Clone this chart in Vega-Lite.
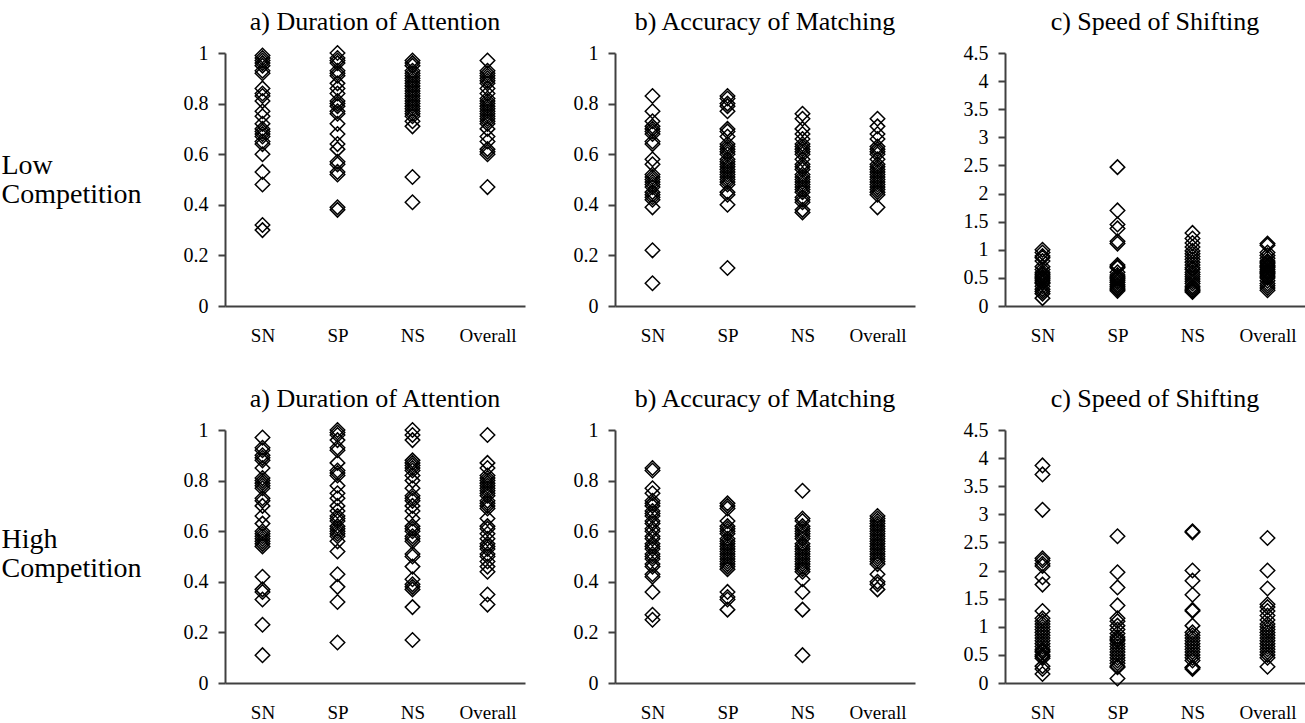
{
  "$schema": "https://vega.github.io/schema/vega-lite/v6.json",
  "padding": {"left": 1, "top": 8, "right": 0, "bottom": 0},
  "background": "white",
  "datasets": {
    "la": [
      {"g":"SN","v":0.99},{"g":"SN","v":0.98},{"g":"SN","v":0.97},{"g":"SN","v":0.96},{"g":"SN","v":0.95},{"g":"SN","v":0.93},{"g":"SN","v":0.92},{"g":"SN","v":0.86},{"g":"SN","v":0.84},{"g":"SN","v":0.83},{"g":"SN","v":0.81},{"g":"SN","v":0.77},{"g":"SN","v":0.75},{"g":"SN","v":0.72},{"g":"SN","v":0.70},{"g":"SN","v":0.69},{"g":"SN","v":0.68},{"g":"SN","v":0.67},{"g":"SN","v":0.65},{"g":"SN","v":0.64},{"g":"SN","v":0.60},{"g":"SN","v":0.53},{"g":"SN","v":0.48},{"g":"SN","v":0.32},{"g":"SN","v":0.30},
      {"g":"SP","v":1.00},{"g":"SP","v":0.98},{"g":"SP","v":0.97},{"g":"SP","v":0.96},{"g":"SP","v":0.93},{"g":"SP","v":0.92},{"g":"SP","v":0.91},{"g":"SP","v":0.88},{"g":"SP","v":0.86},{"g":"SP","v":0.84},{"g":"SP","v":0.81},{"g":"SP","v":0.80},{"g":"SP","v":0.79},{"g":"SP","v":0.77},{"g":"SP","v":0.76},{"g":"SP","v":0.72},{"g":"SP","v":0.68},{"g":"SP","v":0.64},{"g":"SP","v":0.62},{"g":"SP","v":0.57},{"g":"SP","v":0.56},{"g":"SP","v":0.53},{"g":"SP","v":0.52},{"g":"SP","v":0.39},{"g":"SP","v":0.38},
      {"g":"NS","v":0.97},{"g":"NS","v":0.96},{"g":"NS","v":0.95},{"g":"NS","v":0.93},{"g":"NS","v":0.92},{"g":"NS","v":0.91},{"g":"NS","v":0.90},{"g":"NS","v":0.89},{"g":"NS","v":0.88},{"g":"NS","v":0.87},{"g":"NS","v":0.86},{"g":"NS","v":0.85},{"g":"NS","v":0.84},{"g":"NS","v":0.83},{"g":"NS","v":0.82},{"g":"NS","v":0.81},{"g":"NS","v":0.80},{"g":"NS","v":0.79},{"g":"NS","v":0.78},{"g":"NS","v":0.77},{"g":"NS","v":0.76},{"g":"NS","v":0.75},{"g":"NS","v":0.73},{"g":"NS","v":0.71},{"g":"NS","v":0.51},{"g":"NS","v":0.41},
      {"g":"Overall","v":0.97},{"g":"Overall","v":0.93},{"g":"Overall","v":0.92},{"g":"Overall","v":0.91},{"g":"Overall","v":0.90},{"g":"Overall","v":0.89},{"g":"Overall","v":0.88},{"g":"Overall","v":0.86},{"g":"Overall","v":0.84},{"g":"Overall","v":0.82},{"g":"Overall","v":0.81},{"g":"Overall","v":0.80},{"g":"Overall","v":0.79},{"g":"Overall","v":0.78},{"g":"Overall","v":0.77},{"g":"Overall","v":0.76},{"g":"Overall","v":0.75},{"g":"Overall","v":0.74},{"g":"Overall","v":0.73},{"g":"Overall","v":0.72},{"g":"Overall","v":0.70},{"g":"Overall","v":0.67},{"g":"Overall","v":0.65},{"g":"Overall","v":0.62},{"g":"Overall","v":0.61},{"g":"Overall","v":0.60},{"g":"Overall","v":0.47}
    ],
    "lb": [
      {"g":"SN","v":0.83},{"g":"SN","v":0.77},{"g":"SN","v":0.73},{"g":"SN","v":0.71},{"g":"SN","v":0.70},{"g":"SN","v":0.69},{"g":"SN","v":0.68},{"g":"SN","v":0.65},{"g":"SN","v":0.64},{"g":"SN","v":0.58},{"g":"SN","v":0.56},{"g":"SN","v":0.52},{"g":"SN","v":0.51},{"g":"SN","v":0.50},{"g":"SN","v":0.49},{"g":"SN","v":0.48},{"g":"SN","v":0.47},{"g":"SN","v":0.45},{"g":"SN","v":0.44},{"g":"SN","v":0.43},{"g":"SN","v":0.42},{"g":"SN","v":0.39},{"g":"SN","v":0.22},{"g":"SN","v":0.09},
      {"g":"SP","v":0.83},{"g":"SP","v":0.82},{"g":"SP","v":0.80},{"g":"SP","v":0.79},{"g":"SP","v":0.77},{"g":"SP","v":0.70},{"g":"SP","v":0.69},{"g":"SP","v":0.67},{"g":"SP","v":0.64},{"g":"SP","v":0.63},{"g":"SP","v":0.62},{"g":"SP","v":0.61},{"g":"SP","v":0.60},{"g":"SP","v":0.58},{"g":"SP","v":0.57},{"g":"SP","v":0.56},{"g":"SP","v":0.55},{"g":"SP","v":0.54},{"g":"SP","v":0.53},{"g":"SP","v":0.52},{"g":"SP","v":0.51},{"g":"SP","v":0.50},{"g":"SP","v":0.49},{"g":"SP","v":0.48},{"g":"SP","v":0.45},{"g":"SP","v":0.44},{"g":"SP","v":0.40},{"g":"SP","v":0.15},
      {"g":"NS","v":0.76},{"g":"NS","v":0.74},{"g":"NS","v":0.70},{"g":"NS","v":0.68},{"g":"NS","v":0.66},{"g":"NS","v":0.64},{"g":"NS","v":0.63},{"g":"NS","v":0.62},{"g":"NS","v":0.61},{"g":"NS","v":0.60},{"g":"NS","v":0.58},{"g":"NS","v":0.56},{"g":"NS","v":0.55},{"g":"NS","v":0.54},{"g":"NS","v":0.52},{"g":"NS","v":0.51},{"g":"NS","v":0.50},{"g":"NS","v":0.49},{"g":"NS","v":0.48},{"g":"NS","v":0.47},{"g":"NS","v":0.46},{"g":"NS","v":0.45},{"g":"NS","v":0.43},{"g":"NS","v":0.42},{"g":"NS","v":0.41},{"g":"NS","v":0.38},{"g":"NS","v":0.37},
      {"g":"Overall","v":0.74},{"g":"Overall","v":0.71},{"g":"Overall","v":0.68},{"g":"Overall","v":0.66},{"g":"Overall","v":0.63},{"g":"Overall","v":0.62},{"g":"Overall","v":0.61},{"g":"Overall","v":0.60},{"g":"Overall","v":0.58},{"g":"Overall","v":0.56},{"g":"Overall","v":0.55},{"g":"Overall","v":0.54},{"g":"Overall","v":0.53},{"g":"Overall","v":0.52},{"g":"Overall","v":0.51},{"g":"Overall","v":0.50},{"g":"Overall","v":0.49},{"g":"Overall","v":0.48},{"g":"Overall","v":0.47},{"g":"Overall","v":0.46},{"g":"Overall","v":0.45},{"g":"Overall","v":0.44},{"g":"Overall","v":0.39}
    ],
    "lc": [
      {"g":"SN","v":1.00},{"g":"SN","v":0.95},{"g":"SN","v":0.89},{"g":"SN","v":0.86},{"g":"SN","v":0.80},{"g":"SN","v":0.70},{"g":"SN","v":0.65},{"g":"SN","v":0.60},{"g":"SN","v":0.57},{"g":"SN","v":0.55},{"g":"SN","v":0.52},{"g":"SN","v":0.50},{"g":"SN","v":0.48},{"g":"SN","v":0.45},{"g":"SN","v":0.42},{"g":"SN","v":0.40},{"g":"SN","v":0.35},{"g":"SN","v":0.30},{"g":"SN","v":0.26},{"g":"SN","v":0.22},{"g":"SN","v":0.14},
      {"g":"SP","v":2.47},{"g":"SP","v":1.70},{"g":"SP","v":1.45},{"g":"SP","v":1.38},{"g":"SP","v":1.15},{"g":"SP","v":1.11},{"g":"SP","v":0.73},{"g":"SP","v":0.70},{"g":"SP","v":0.68},{"g":"SP","v":0.60},{"g":"SP","v":0.55},{"g":"SP","v":0.52},{"g":"SP","v":0.50},{"g":"SP","v":0.48},{"g":"SP","v":0.45},{"g":"SP","v":0.42},{"g":"SP","v":0.38},{"g":"SP","v":0.35},{"g":"SP","v":0.32},{"g":"SP","v":0.30},{"g":"SP","v":0.27},
      {"g":"NS","v":1.30},{"g":"NS","v":1.20},{"g":"NS","v":1.12},{"g":"NS","v":1.05},{"g":"NS","v":0.98},{"g":"NS","v":0.93},{"g":"NS","v":0.88},{"g":"NS","v":0.83},{"g":"NS","v":0.78},{"g":"NS","v":0.73},{"g":"NS","v":0.68},{"g":"NS","v":0.65},{"g":"NS","v":0.60},{"g":"NS","v":0.56},{"g":"NS","v":0.52},{"g":"NS","v":0.48},{"g":"NS","v":0.44},{"g":"NS","v":0.40},{"g":"NS","v":0.35},{"g":"NS","v":0.32},{"g":"NS","v":0.29},{"g":"NS","v":0.27},{"g":"NS","v":0.25},
      {"g":"Overall","v":1.11},{"g":"Overall","v":1.08},{"g":"Overall","v":0.95},{"g":"Overall","v":0.90},{"g":"Overall","v":0.85},{"g":"Overall","v":0.80},{"g":"Overall","v":0.78},{"g":"Overall","v":0.75},{"g":"Overall","v":0.72},{"g":"Overall","v":0.70},{"g":"Overall","v":0.68},{"g":"Overall","v":0.65},{"g":"Overall","v":0.62},{"g":"Overall","v":0.60},{"g":"Overall","v":0.58},{"g":"Overall","v":0.55},{"g":"Overall","v":0.52},{"g":"Overall","v":0.50},{"g":"Overall","v":0.45},{"g":"Overall","v":0.40},{"g":"Overall","v":0.36},{"g":"Overall","v":0.32},{"g":"Overall","v":0.28}
    ],
    "ha": [
      {"g":"SN","v":0.97},{"g":"SN","v":0.93},{"g":"SN","v":0.92},{"g":"SN","v":0.90},{"g":"SN","v":0.89},{"g":"SN","v":0.88},{"g":"SN","v":0.85},{"g":"SN","v":0.81},{"g":"SN","v":0.80},{"g":"SN","v":0.79},{"g":"SN","v":0.78},{"g":"SN","v":0.77},{"g":"SN","v":0.73},{"g":"SN","v":0.72},{"g":"SN","v":0.70},{"g":"SN","v":0.66},{"g":"SN","v":0.63},{"g":"SN","v":0.60},{"g":"SN","v":0.59},{"g":"SN","v":0.58},{"g":"SN","v":0.57},{"g":"SN","v":0.56},{"g":"SN","v":0.55},{"g":"SN","v":0.54},{"g":"SN","v":0.42},{"g":"SN","v":0.37},{"g":"SN","v":0.36},{"g":"SN","v":0.33},{"g":"SN","v":0.23},{"g":"SN","v":0.11},
      {"g":"SP","v":1.00},{"g":"SP","v":0.99},{"g":"SP","v":0.98},{"g":"SP","v":0.96},{"g":"SP","v":0.93},{"g":"SP","v":0.92},{"g":"SP","v":0.87},{"g":"SP","v":0.84},{"g":"SP","v":0.83},{"g":"SP","v":0.82},{"g":"SP","v":0.78},{"g":"SP","v":0.75},{"g":"SP","v":0.73},{"g":"SP","v":0.70},{"g":"SP","v":0.68},{"g":"SP","v":0.66},{"g":"SP","v":0.65},{"g":"SP","v":0.64},{"g":"SP","v":0.62},{"g":"SP","v":0.61},{"g":"SP","v":0.60},{"g":"SP","v":0.59},{"g":"SP","v":0.58},{"g":"SP","v":0.56},{"g":"SP","v":0.52},{"g":"SP","v":0.43},{"g":"SP","v":0.38},{"g":"SP","v":0.32},{"g":"SP","v":0.16},
      {"g":"NS","v":1.00},{"g":"NS","v":0.98},{"g":"NS","v":0.96},{"g":"NS","v":0.88},{"g":"NS","v":0.87},{"g":"NS","v":0.86},{"g":"NS","v":0.85},{"g":"NS","v":0.84},{"g":"NS","v":0.82},{"g":"NS","v":0.80},{"g":"NS","v":0.77},{"g":"NS","v":0.74},{"g":"NS","v":0.73},{"g":"NS","v":0.72},{"g":"NS","v":0.70},{"g":"NS","v":0.68},{"g":"NS","v":0.65},{"g":"NS","v":0.62},{"g":"NS","v":0.61},{"g":"NS","v":0.60},{"g":"NS","v":0.58},{"g":"NS","v":0.57},{"g":"NS","v":0.56},{"g":"NS","v":0.51},{"g":"NS","v":0.50},{"g":"NS","v":0.46},{"g":"NS","v":0.41},{"g":"NS","v":0.39},{"g":"NS","v":0.38},{"g":"NS","v":0.37},{"g":"NS","v":0.30},{"g":"NS","v":0.17},
      {"g":"Overall","v":0.98},{"g":"Overall","v":0.87},{"g":"Overall","v":0.85},{"g":"Overall","v":0.82},{"g":"Overall","v":0.81},{"g":"Overall","v":0.80},{"g":"Overall","v":0.79},{"g":"Overall","v":0.78},{"g":"Overall","v":0.77},{"g":"Overall","v":0.76},{"g":"Overall","v":0.75},{"g":"Overall","v":0.74},{"g":"Overall","v":0.72},{"g":"Overall","v":0.71},{"g":"Overall","v":0.70},{"g":"Overall","v":0.69},{"g":"Overall","v":0.65},{"g":"Overall","v":0.62},{"g":"Overall","v":0.61},{"g":"Overall","v":0.59},{"g":"Overall","v":0.57},{"g":"Overall","v":0.55},{"g":"Overall","v":0.54},{"g":"Overall","v":0.53},{"g":"Overall","v":0.51},{"g":"Overall","v":0.50},{"g":"Overall","v":0.48},{"g":"Overall","v":0.46},{"g":"Overall","v":0.44},{"g":"Overall","v":0.35},{"g":"Overall","v":0.31}
    ],
    "hb": [
      {"g":"SN","v":0.85},{"g":"SN","v":0.84},{"g":"SN","v":0.77},{"g":"SN","v":0.75},{"g":"SN","v":0.72},{"g":"SN","v":0.71},{"g":"SN","v":0.70},{"g":"SN","v":0.68},{"g":"SN","v":0.67},{"g":"SN","v":0.66},{"g":"SN","v":0.64},{"g":"SN","v":0.63},{"g":"SN","v":0.61},{"g":"SN","v":0.60},{"g":"SN","v":0.58},{"g":"SN","v":0.57},{"g":"SN","v":0.55},{"g":"SN","v":0.54},{"g":"SN","v":0.53},{"g":"SN","v":0.51},{"g":"SN","v":0.50},{"g":"SN","v":0.49},{"g":"SN","v":0.47},{"g":"SN","v":0.46},{"g":"SN","v":0.43},{"g":"SN","v":0.42},{"g":"SN","v":0.36},{"g":"SN","v":0.27},{"g":"SN","v":0.25},
      {"g":"SP","v":0.71},{"g":"SP","v":0.70},{"g":"SP","v":0.69},{"g":"SP","v":0.64},{"g":"SP","v":0.62},{"g":"SP","v":0.61},{"g":"SP","v":0.60},{"g":"SP","v":0.59},{"g":"SP","v":0.57},{"g":"SP","v":0.56},{"g":"SP","v":0.55},{"g":"SP","v":0.54},{"g":"SP","v":0.53},{"g":"SP","v":0.52},{"g":"SP","v":0.51},{"g":"SP","v":0.50},{"g":"SP","v":0.49},{"g":"SP","v":0.48},{"g":"SP","v":0.47},{"g":"SP","v":0.46},{"g":"SP","v":0.45},{"g":"SP","v":0.36},{"g":"SP","v":0.34},{"g":"SP","v":0.33},{"g":"SP","v":0.29},
      {"g":"NS","v":0.76},{"g":"NS","v":0.65},{"g":"NS","v":0.64},{"g":"NS","v":0.62},{"g":"NS","v":0.61},{"g":"NS","v":0.60},{"g":"NS","v":0.59},{"g":"NS","v":0.58},{"g":"NS","v":0.57},{"g":"NS","v":0.55},{"g":"NS","v":0.54},{"g":"NS","v":0.53},{"g":"NS","v":0.52},{"g":"NS","v":0.51},{"g":"NS","v":0.50},{"g":"NS","v":0.49},{"g":"NS","v":0.48},{"g":"NS","v":0.47},{"g":"NS","v":0.46},{"g":"NS","v":0.45},{"g":"NS","v":0.44},{"g":"NS","v":0.41},{"g":"NS","v":0.36},{"g":"NS","v":0.29},{"g":"NS","v":0.11},
      {"g":"Overall","v":0.66},{"g":"Overall","v":0.65},{"g":"Overall","v":0.64},{"g":"Overall","v":0.63},{"g":"Overall","v":0.62},{"g":"Overall","v":0.61},{"g":"Overall","v":0.60},{"g":"Overall","v":0.59},{"g":"Overall","v":0.58},{"g":"Overall","v":0.57},{"g":"Overall","v":0.56},{"g":"Overall","v":0.55},{"g":"Overall","v":0.54},{"g":"Overall","v":0.53},{"g":"Overall","v":0.52},{"g":"Overall","v":0.51},{"g":"Overall","v":0.50},{"g":"Overall","v":0.49},{"g":"Overall","v":0.48},{"g":"Overall","v":0.47},{"g":"Overall","v":0.43},{"g":"Overall","v":0.40},{"g":"Overall","v":0.39},{"g":"Overall","v":0.37}
    ],
    "hc": [
      {"g":"SN","v":3.87},{"g":"SN","v":3.71},{"g":"SN","v":3.08},{"g":"SN","v":2.22},{"g":"SN","v":2.18},{"g":"SN","v":2.12},{"g":"SN","v":2.08},{"g":"SN","v":1.88},{"g":"SN","v":1.75},{"g":"SN","v":1.28},{"g":"SN","v":1.15},{"g":"SN","v":1.10},{"g":"SN","v":1.05},{"g":"SN","v":1.00},{"g":"SN","v":0.95},{"g":"SN","v":0.90},{"g":"SN","v":0.85},{"g":"SN","v":0.80},{"g":"SN","v":0.75},{"g":"SN","v":0.70},{"g":"SN","v":0.65},{"g":"SN","v":0.60},{"g":"SN","v":0.57},{"g":"SN","v":0.55},{"g":"SN","v":0.50},{"g":"SN","v":0.47},{"g":"SN","v":0.44},{"g":"SN","v":0.30},{"g":"SN","v":0.25},{"g":"SN","v":0.16},
      {"g":"SP","v":2.61},{"g":"SP","v":1.97},{"g":"SP","v":1.70},{"g":"SP","v":1.38},{"g":"SP","v":1.15},{"g":"SP","v":1.10},{"g":"SP","v":1.02},{"g":"SP","v":0.95},{"g":"SP","v":0.88},{"g":"SP","v":0.82},{"g":"SP","v":0.78},{"g":"SP","v":0.75},{"g":"SP","v":0.70},{"g":"SP","v":0.65},{"g":"SP","v":0.60},{"g":"SP","v":0.55},{"g":"SP","v":0.50},{"g":"SP","v":0.45},{"g":"SP","v":0.40},{"g":"SP","v":0.35},{"g":"SP","v":0.30},{"g":"SP","v":0.28},{"g":"SP","v":0.08},
      {"g":"NS","v":2.70},{"g":"NS","v":2.68},{"g":"NS","v":2.00},{"g":"NS","v":1.82},{"g":"NS","v":1.57},{"g":"NS","v":1.30},{"g":"NS","v":1.28},{"g":"NS","v":1.02},{"g":"NS","v":0.90},{"g":"NS","v":0.85},{"g":"NS","v":0.80},{"g":"NS","v":0.75},{"g":"NS","v":0.70},{"g":"NS","v":0.65},{"g":"NS","v":0.60},{"g":"NS","v":0.55},{"g":"NS","v":0.50},{"g":"NS","v":0.45},{"g":"NS","v":0.40},{"g":"NS","v":0.28},{"g":"NS","v":0.27},{"g":"NS","v":0.25},
      {"g":"Overall","v":2.58},{"g":"Overall","v":2.00},{"g":"Overall","v":1.68},{"g":"Overall","v":1.40},{"g":"Overall","v":1.35},{"g":"Overall","v":1.28},{"g":"Overall","v":1.20},{"g":"Overall","v":1.12},{"g":"Overall","v":1.05},{"g":"Overall","v":1.00},{"g":"Overall","v":0.95},{"g":"Overall","v":0.90},{"g":"Overall","v":0.85},{"g":"Overall","v":0.80},{"g":"Overall","v":0.75},{"g":"Overall","v":0.70},{"g":"Overall","v":0.65},{"g":"Overall","v":0.60},{"g":"Overall","v":0.55},{"g":"Overall","v":0.50},{"g":"Overall","v":0.45},{"g":"Overall","v":0.29}
    ]
  },
  "bounds": "full",
  "spacing": 40,
  "vconcat": [
    {
      "bounds": "flush",
      "spacing": 90,
      "hconcat": [
        {
          "width": 300, "height": 253,
          "data": {"name": "la"},
          "title": "a) Duration of Attention",
          "mark": {"type": "point"},
          "encoding": {
            "x": {"field": "g", "type": "nominal", "sort": ["SN","SP","NS","Overall"], "title": null},
            "y": {"field": "v", "type": "quantitative", "scale": {"domain": [0, 1], "nice": false}, "axis": {"values": [0,0.2,0.4,0.6,0.8,1], "title": ["Low", "Competition"], "titleAngle": 0, "titleAlign": "left", "titleBaseline": "alphabetic", "titleX": -224, "titleY": 120, "titleFontSize": 28, "titleLineHeight": 29}}
          }
        },
        {
          "width": 300, "height": 253,
          "data": {"name": "lb"},
          "title": "b) Accuracy of Matching",
          "mark": {"type": "point"},
          "encoding": {
            "x": {"field": "g", "type": "nominal", "sort": ["SN","SP","NS","Overall"], "title": null},
            "y": {"field": "v", "type": "quantitative", "scale": {"domain": [0, 1], "nice": false}, "axis": {"values": [0,0.2,0.4,0.6,0.8,1], "title": null}}
          }
        },
        {
          "width": 300, "height": 253,
          "data": {"name": "lc"},
          "title": "c) Speed of Shifting",
          "mark": {"type": "point"},
          "encoding": {
            "x": {"field": "g", "type": "nominal", "sort": ["SN","SP","NS","Overall"], "title": null},
            "y": {"field": "v", "type": "quantitative", "scale": {"domain": [0, 4.5], "nice": false}, "axis": {"values": [0,0.5,1,1.5,2,2.5,3,3.5,4,4.5], "title": null}}
          }
        }
      ]
    },
    {
      "bounds": "flush",
      "spacing": 90,
      "hconcat": [
        {
          "width": 300, "height": 253,
          "data": {"name": "ha"},
          "title": "a) Duration of Attention",
          "mark": {"type": "point"},
          "encoding": {
            "x": {"field": "g", "type": "nominal", "sort": ["SN","SP","NS","Overall"], "title": null},
            "y": {"field": "v", "type": "quantitative", "scale": {"domain": [0, 1], "nice": false}, "axis": {"values": [0,0.2,0.4,0.6,0.8,1], "title": ["High", "Competition"], "titleAngle": 0, "titleAlign": "left", "titleBaseline": "alphabetic", "titleX": -224, "titleY": 117, "titleFontSize": 28, "titleLineHeight": 29}}
          }
        },
        {
          "width": 300, "height": 253,
          "data": {"name": "hb"},
          "title": "b) Accuracy of Matching",
          "mark": {"type": "point"},
          "encoding": {
            "x": {"field": "g", "type": "nominal", "sort": ["SN","SP","NS","Overall"], "title": null},
            "y": {"field": "v", "type": "quantitative", "scale": {"domain": [0, 1], "nice": false}, "axis": {"values": [0,0.2,0.4,0.6,0.8,1], "title": null}}
          }
        },
        {
          "width": 300, "height": 253,
          "data": {"name": "hc"},
          "title": "c) Speed of Shifting",
          "mark": {"type": "point"},
          "encoding": {
            "x": {"field": "g", "type": "nominal", "sort": ["SN","SP","NS","Overall"], "title": null},
            "y": {"field": "v", "type": "quantitative", "scale": {"domain": [0, 4.5], "nice": false}, "axis": {"values": [0,0.5,1,1.5,2,2.5,3,3.5,4,4.5], "title": null}}
          }
        }
      ]
    }
  ],
  "config": {
    "view": {"stroke": null},
    "font": "Liberation Serif",
    "axis": {"grid": false, "domainColor": "#404040", "domainWidth": 2, "tickColor": "#404040", "tickWidth": 2, "labelColor": "#000", "labelFont": "Liberation Serif", "labelFontSize": 20, "titleFont": "Liberation Serif", "titleFontWeight": "normal", "titleColor": "#000"},
    "axisX": {"ticks": false, "tickSize": 0, "labelPadding": 20, "labelFontSize": 19, "labelAngle": 0},
    "axisY": {"tickSize": 7, "labelPadding": 10, "format": "~g"},
    "title": {"font": "Liberation Serif", "fontSize": 26, "fontWeight": "normal", "color": "#000", "frame": "group", "baseline": "alphabetic", "offset": 8},
    "point": {"shape": "diamond", "filled": false, "stroke": "#000", "strokeWidth": 1.5, "size": 210, "opacity": 1}
  }
}
